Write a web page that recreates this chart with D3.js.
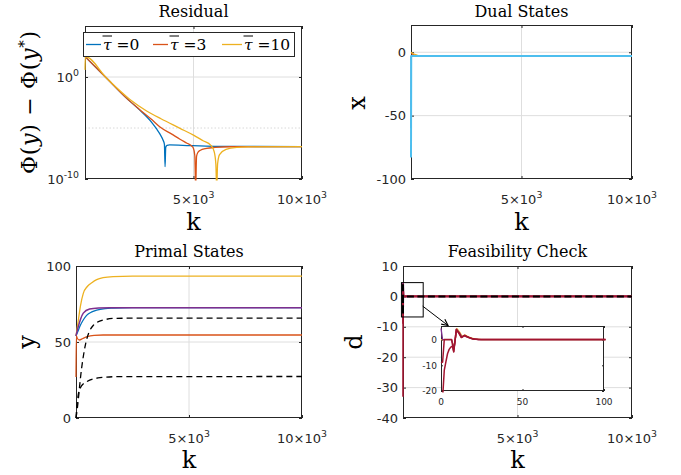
<!DOCTYPE html>
<html><head><meta charset="utf-8">
<script src="https://cdn.jsdelivr.net/npm/d3@7/dist/d3.min.js"></script>
<style>html,body{margin:0;padding:0;background:#fff;}svg{display:block;}</style>
</head><body>
<svg id="chart" width="681" height="475"></svg>
<script>
// ---------------- data ----------------
const kTicks = [5000, 10000];
const kTickBase = ["5\u00D710", "10\u00D710"];
const kTickExp = ["3", "3"];
const residualTicks = [1e-10, 1e0];
const residualTickExp = ["-10", "0"];
const dualTicks = [-100, -50, 0];
const primalTicks = [0, 50, 100];
const feasTicks = [-40, -30, -20, -10, 0, 10];
const insetKTicks = [0, 50, 100];
const insetDTicks = [-20, -10, 0];
const tauBarValues = ["0", "3", "10"];

// Residual  Phi(y) - Phi(y*)  (k, value)
const residualBlue = [[0,100],[1000,0.74],[1935,7.6e-3],[2500,6.3e-4],[3090,3.2e-5],[3300,8e-6],[3456,2.5e-6],[3600,6.3e-7],[3660,2.5e-7],[3690,1.6e-9],[3720,1.3e-7],[3780,2e-7],[3900,2.2e-7],[4500,2e-7],[6000,1.6e-7],[10000,1.5e-7]];
const residualRed = [[0,100],[1000,0.74],[1935,7.6e-3],[2500,7e-4],[3090,6.3e-5],[3456,1.26e-5],[4000,2.5e-6],[4378,8e-7],[4700,3.2e-7],[4900,1.8e-7],[5000,1e-7],[5060,2e-8],[5100,1e-11],[5140,1.6e-8],[5200,4e-8],[5300,6.3e-8],[5600,1e-7],[6000,1.26e-7],[6700,1.45e-7],[10000,1.5e-7]];
const residualYellow = [[0,5],[15,100],[1000,0.74],[2070,6.3e-3],[2840,4.7e-4],[3500,8e-5],[4378,9.3e-6],[5000,2e-6],[5440,5.6e-7],[5800,2e-7],[5950,5e-8],[6030,3e-9],[6070,1e-11],[6110,3e-9],[6200,2.5e-8],[6500,8e-8],[7000,1.26e-7],[7500,1.4e-7],[10000,1.5e-7]];

// Dual states x
const dualBlue = [[0,-60],[10,-3.2],[10000,-3.2]];
const dualRed = [[0,-1],[150,-2.2],[350,-3],[10000,-3]];
const dualYellow = [[0,0],[100,-1.2],[300,-2.5],[500,-3],[10000,-3]];
const dualCyan = [[0,-83],[10,-3],[10000,-3]];

// Primal states y
const primalYellow = [[0,54],[100,64],[200,74],[323,82],[500,86.5],[700,89],[915,91],[1200,92.3],[1640,93],[2500,93.3],[10000,93.3]];
const primalBlue = [[0,54],[100,57.5],[177,60.5],[300,64],[470,67.5],[700,69.8],[915,71],[1300,72],[1640,72.3],[2500,72.6],[10000,72.6]];
const primalPurple = [[0,54],[100,60],[200,65],[323,69],[600,71.7],[1000,72.4],[1500,72.6],[10000,72.6]];
const primalRed = [[0,27],[15,54],[60,52.3],[150,51.3],[300,52.3],[500,53.5],[800,54.3],[1200,54.6],[10000,54.6]];
const primalRefHigh = [[0,0],[30,3],[250,33],[400,47],[770,61],[1210,64.5],[1800,65.6],[3000,65.7],[10000,65.7]];
const primalRefLow = [[0,0],[30,6.4],[177,19.5],[470,23.9],[1060,26.5],[1800,27.2],[10000,27.3]];

// Feasibility check d
const feasYellow = [[0,0],[6.5,0],[8,-3],[9.8,4.3],[11.5,2.8],[13,1.2],[14.8,1.8],[17,1.0],[20.5,0.3],[25,0],[100,0],[10000,0]];
const feasPurple = [[0,4.4],[1,0],[6.5,0],[8,-3.5],[9.6,4],[11.3,2.6],[12.8,1.0],[14.6,1.6],[17,0.9],[20,0.2],[24,0],[100,0],[10000,0]];
const feasRedA = [[0,-9],[1,-8.7],[2,0],[6.5,0],[7.8,-4.8],[9.4,4],[11,2.6],[12.5,0.9],[14.3,1.7],[16.5,1.0],[19.5,0.3],[23,0],[100,0],[10000,0]];
const feasRedB = [[0,-33],[2,-12],[3,-8.7],[4,-5.5],[5,-3.8],[6,-2.9],[7,-2.6],[7.8,-4.6],[9.4,3.9],[11,2.4],[12.5,0.8],[14.3,1.5],[16.5,0.9],[19.5,0.2],[23,0],[100,0],[10000,0]];
const feasReference = [[0,4],[1,-6],[2,0],[10000,0]];

// zoom annotation (data coordinates of the highlighted region)
const zoomRegionK = [-90, 860];
const zoomRegionD = [4.7, -6.6];

// ---------------- drawing ----------------
const AX = "#262626", GRID = "#dedede";
const COL = {blue:"#0072BD", red:"#D95319", yellow:"#EDB120", purple:"#7E2F8E", cyan:"#4DBEEE", dark:"#A2142F"};
const TICKFONT = "DejaVu Sans, Liberation Sans, sans-serif";
const SERIF = "DejaVu Serif, Liberation Serif, serif";

const svg = d3.select("#chart");
const defs = svg.append("defs");

function supLabel(g, x, y, base, exp, anchor, fs) {
  const t = g.append("text").attr("x", x).attr("y", y).attr("text-anchor", anchor)
    .attr("font-family", TICKFONT).attr("font-size", fs).attr("fill", AX);
  t.append("tspan").text(base);
  if (exp) t.append("tspan").attr("dy", -fs * 0.45).attr("font-size", fs * 0.72).text(exp);
  return t;
}

function panel(c) {
  const g = svg.append("g");
  const x = d3.scaleLinear().domain(c.xDomain).range([c.x0, c.x1]);
  const y = c.yScale.copy().range([c.y1, c.y0]);
  defs.append("clipPath").attr("id", "clip-" + c.name).append("rect")
    .attr("x", c.x0 - 1.5).attr("y", c.y0 - 1.5).attr("width", c.x1 - c.x0 + 3).attr("height", c.y1 - c.y0 + 3);
  g.append("rect").attr("x", c.x0).attr("y", c.y0).attr("width", c.x1 - c.x0).attr("height", c.y1 - c.y0).attr("fill", "#fff");
  (c.xGrid || []).forEach(v => g.append("line").attr("x1", x(v)).attr("x2", x(v)).attr("y1", c.y0).attr("y2", c.y1).attr("stroke", GRID).attr("stroke-width", 1));
  (c.yGrid || []).forEach(v => g.append("line").attr("x1", c.x0).attr("x2", c.x1).attr("y1", y(v)).attr("y2", y(v)).attr("stroke", GRID).attr("stroke-width", 1));
  (c.yMinorGrid || []).forEach(v => g.append("line").attr("x1", c.x0).attr("x2", c.x1).attr("y1", y(v)).attr("y2", y(v)).attr("stroke", "#d8d8d8").attr("stroke-dasharray", "1.5,2").attr("stroke-width", 1));
  // axes (ticks inside, all four sides)
  const ts = c.tick || 3;
  const axes = [
    [d3.axisBottom(x).tickValues(c.xTicks), `translate(0,${c.y1})`],
    [d3.axisTop(x).tickValues(c.xTicks), `translate(0,${c.y0})`],
    [d3.axisLeft(y).tickValues(c.yTicks), `translate(${c.x0},0)`],
    [d3.axisRight(y).tickValues(c.yTicks), `translate(${c.x1},0)`]
  ];
  axes.forEach(([a, tr]) => {
    const ag = g.append("g").attr("transform", tr).call(a.tickSizeInner(-ts).tickSizeOuter(0).tickFormat(""));
    ag.select(".domain").remove();
    ag.selectAll("line").attr("stroke", AX);
  });
  g.append("rect").attr("x", c.x0 + 0.5).attr("y", c.y0 + 0.5).attr("width", c.x1 - c.x0 - 1).attr("height", c.y1 - c.y0 - 1)
    .attr("fill", "none").attr("stroke", AX).attr("stroke-width", 1);
  // data drawn over the box, like the original
  const dg = g.append("g").attr("clip-path", `url(#clip-${c.name})`);
  c.series.forEach(s => {
    const line = d3.line().x(d => x(d[0])).y(d => y(d[1])).curve(s.curve || d3.curveLinear);
    dg.append("path").attr("d", line(s.data)).attr("fill", "none").attr("stroke", s.color)
      .attr("stroke-width", s.width || 1.3).attr("stroke-dasharray", s.dash || null)
      .attr("stroke-linejoin", "round");
  });
  const fs = c.fs || 13;
  c.xTicks.forEach((v, i) => supLabel(g, x(v), c.y1 + c.xLabOff, c.xBase[i], c.xExp ? c.xExp[i] : null, "middle", fs));
  c.yTicks.forEach((v, i) => supLabel(g, c.x0 - c.yLabOff, y(v) + fs * 0.36, c.yBase[i], c.yExp ? c.yExp[i] : null, "end", fs));
  return {g, x, y};
}

function title(txt, cx, by) {
  svg.append("text").attr("x", cx).attr("y", by).attr("text-anchor", "middle")
    .attr("font-family", SERIF).attr("font-size", 16).attr("fill", "#000").text(txt);
}
function kLabel(cx, by) {
  svg.append("text").attr("x", cx).attr("y", by).attr("text-anchor", "middle")
    .attr("font-family", SERIF).attr("font-size", 24).attr("fill", "#000").text("k");
}
function yLabelSimple(txt, bx, cy) {
  svg.append("text").attr("transform", `translate(${bx},${cy}) rotate(-90)`).attr("text-anchor", "middle")
    .attr("font-family", SERIF).attr("font-size", 24).attr("fill", "#000").text(txt);
}

// ---- Panel 1: Residual ----
const p1 = panel({
  name: "res", x0: 85, x1: 302, y0: 26, y1: 179,
  xDomain: [0, 10000], yScale: d3.scaleLog().domain([1e-10, 1e5]),
  xTicks: kTicks, xBase: kTickBase, xExp: kTickExp, xLabOff: 25,
  yTicks: residualTicks, yBase: ["10", "10"], yExp: residualTickExp, yLabOff: 6,
  xGrid: [5000], yGrid: [1e0], yMinorGrid: [1e-5],
  series: [
    {data: residualBlue, color: COL.blue, curve: d3.curveMonotoneX},
    {data: residualRed, color: COL.red, curve: d3.curveMonotoneX},
    {data: residualYellow, color: COL.yellow, curve: d3.curveMonotoneX}
  ]
});
title("Residual", 193.5, 17);
kLabel(193.5, 230);
{
  const t = svg.append("text").attr("transform", "translate(37,102.5) rotate(-90)").attr("text-anchor", "middle")
    .attr("font-family", SERIF).attr("font-size", 22).attr("fill", "#000")
    .attr("textLength", 143).attr("lengthAdjust", "spacing");
  t.append("tspan").text("\u03A6(");
  t.append("tspan").attr("font-style", "italic").text("y");
  t.append("tspan").text(") \u2212 \u03A6(");
  t.append("tspan").attr("font-style", "italic").text("y");
  t.append("tspan").attr("dy", -8).attr("font-size", 15).text("*");
  t.append("tspan").attr("dy", 8).text(")");
}
// legend
{
  const lg = svg.append("g");
  lg.append("rect").attr("x", 83.5).attr("y", 32.5).attr("width", 211).attr("height", 24).attr("fill", "#fff").attr("stroke", AX);
  const lineX = [86, 153, 222], lineLen = [15, 15, 20];
  const cols = [COL.blue, COL.red, COL.yellow];
  tauBarValues.forEach((v, i) => {
    lg.append("line").attr("x1", lineX[i]).attr("x2", lineX[i] + lineLen[i]).attr("y1", 44.5).attr("y2", 44.5).attr("stroke", cols[i]).attr("stroke-width", 1.3);
    const tx = lineX[i] + lineLen[i] + 2;
    const t = lg.append("text").attr("x", tx).attr("y", 50).attr("font-family", SERIF).attr("font-size", 15.5).attr("fill", "#000");
    t.append("tspan").attr("font-style", "italic").text("\u03C4");
    t.append("tspan").text(" =" + v);
    lg.append("line").attr("x1", tx - 0.5).attr("x2", tx + 9).attr("y1", 36).attr("y2", 36).attr("stroke", "#000").attr("stroke-width", 1);
  });
}

// ---- Panel 2: Dual States ----
panel({
  name: "dual", x0: 411, x1: 632, y0: 25, y1: 179,
  xDomain: [0, 10000], yScale: d3.scaleLinear().domain([-100, 21.5]),
  xTicks: kTicks, xBase: kTickBase, xExp: kTickExp, xLabOff: 25,
  yTicks: dualTicks, yBase: dualTicks.map(String), yLabOff: 5,
  xGrid: [5000], yGrid: [-50, 0],
  series: [
    {data: dualBlue, color: COL.blue, width: 1.2},
    {data: dualRed, color: COL.red, width: 1.2},
    {data: dualYellow, color: COL.yellow, width: 1.2},
    {data: dualCyan, color: COL.cyan, width: 2}
  ]
});
title("Dual States", 521.5, 17);
kLabel(521.5, 230);
yLabelSimple("x", 365, 103);

// ---- Panel 3: Primal States ----
panel({
  name: "primal", x0: 76, x1: 302, y0: 266, y1: 418,
  xDomain: [0, 10000], yScale: d3.scaleLinear().domain([0, 100]),
  xTicks: kTicks, xBase: kTickBase, xExp: kTickExp, xLabOff: 25,
  yTicks: primalTicks, yBase: primalTicks.map(String), yLabOff: 5,
  xGrid: [5000], yGrid: [50],
  series: [
    {data: primalYellow, color: COL.yellow, curve: d3.curveMonotoneX},
    {data: primalBlue, color: COL.blue, curve: d3.curveMonotoneX},
    {data: primalPurple, color: COL.purple, curve: d3.curveMonotoneX, width: 1.5},
    {data: primalRed, color: COL.red, curve: d3.curveMonotoneX},
    {data: primalRefHigh, color: "#000", curve: d3.curveMonotoneX, dash: "6,4"},
    {data: primalRefLow, color: "#000", curve: d3.curveMonotoneX, dash: "6,4"}
  ]
});
title("Primal States", 189, 256.5);
kLabel(189, 468);
yLabelSimple("y", 35, 342);

// ---- Panel 4: Feasibility Check ----
const p4 = panel({
  name: "feas", x0: 403, x1: 632, y0: 266, y1: 418,
  xDomain: [0, 10000], yScale: d3.scaleLinear().domain([-40, 10]),
  xTicks: kTicks, xBase: kTickBase, xExp: kTickExp, xLabOff: 25,
  yTicks: feasTicks, yBase: feasTicks.map(String), yLabOff: 5,
  xGrid: [5000], yGrid: [-30, -20, -10, 0],
  series: [
    {data: feasYellow, color: COL.yellow},
    {data: feasPurple, color: COL.purple, width: 1.8},
    {data: feasRedA, color: COL.dark, width: 1.6},
    {data: feasRedB, color: COL.dark, width: 1.6},
    {data: feasReference, color: "#000", width: 2, dash: "7,3.5"}
  ]
});
title("Feasibility Check", 517.5, 256.5);
kLabel(517.5, 468);
yLabelSimple("d", 362, 342);

// zoom region rectangle
svg.append("rect")
  .attr("x", p4.x(zoomRegionK[0]) + 0.5).attr("y", p4.y(zoomRegionD[0]) + 0.5)
  .attr("width", p4.x(zoomRegionK[1]) - p4.x(zoomRegionK[0]))
  .attr("height", p4.y(zoomRegionD[1]) - p4.y(zoomRegionD[0]))
  .attr("fill", "none").attr("stroke", "#000").attr("stroke-width", 1);

// inset
const pin = panel({
  name: "inset", x0: 441, x1: 604, y0: 326, y1: 391,
  xDomain: [0, 100], yScale: d3.scaleLinear().domain([-20, 5.3]),
  xTicks: insetKTicks, xBase: insetKTicks.map(String), xLabOff: 14,
  yTicks: insetDTicks, yBase: insetDTicks.map(String), yLabOff: 4,
  fs: 9, tick: 2,
  series: [
    {data: feasYellow, color: COL.yellow, width: 1.3},
    {data: feasPurple, color: COL.purple, width: 1.3},
    {data: feasRedA, color: COL.dark, width: 1.5},
    {data: feasRedB, color: COL.dark, width: 1.5}
  ]
});

// arrow from zoom region to inset
{
  const x1 = p4.x(zoomRegionK[1]), y1 = p4.y(-3.2);
  const x2 = 448, y2 = 325.5;
  svg.append("line").attr("x1", x1).attr("y1", y1).attr("x2", x2).attr("y2", y2).attr("stroke", "#000").attr("stroke-width", 1);
  const ang = Math.atan2(y2 - y1, x2 - x1), L = 7, w = 0.45;
  const pA = [x2 - L * Math.cos(ang - w), y2 - L * Math.sin(ang - w)];
  const pB = [x2 - L * Math.cos(ang + w), y2 - L * Math.sin(ang + w)];
  svg.append("path").attr("d", `M${pA[0]},${pA[1]} L${x2},${y2} L${pB[0]},${pB[1]}`).attr("fill", "none").attr("stroke", "#000").attr("stroke-width", 1.2);
}
</script>
</body></html>
